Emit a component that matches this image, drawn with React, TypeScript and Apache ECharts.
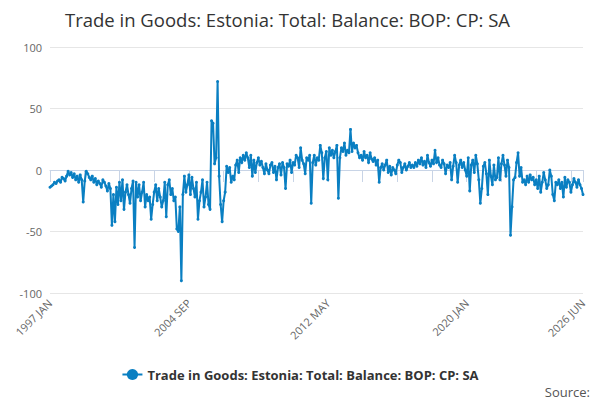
import { useEffect, useRef } from 'react';
import * as echarts from 'echarts';

const MONTHS = ['JAN', 'FEB', 'MAR', 'APR', 'MAY', 'JUN', 'JUL', 'AUG', 'SEP', 'OCT', 'NOV', 'DEC'];
const categories: string[] = [];
for (let y = 1997; y <= 2026; y++) {
  for (let m = 0; m < 12; m++) {
    if (y === 2026 && m > 5) break;
    categories.push(`${y} ${MONTHS[m]}`);
  }
}

const balance = [
  -14, -13, -12, -10, -11, -9, -8, -10, -6, -7, -9, -5,
  -1, -4, -2, -6, -3, -8, -5, -10, -4, -8, -26, -9,
  -1, -3, -6, -8, -5, -10, -7, -12, -9, -11, -14, -8,
  -10, -13, -17, -11, -15, -45, -20, -42, -14, -28, -10, -25,
  -8, -32, -18, -12, -20, -27, -15, -9, -63, -10, -22, -12,
  -25, -18, -10, -30, -20, -25, -22, -40, -28, -18, -12, -25,
  -15, -22, -30, -25, -10, -38, -12, -8, -20, -15, -25, -22,
  -48, -50, -30, -90, -20, -5, -18, -12, -4, -20, -6, -15,
  -22, -10, -40, -25, -18, -8, -30, -22, -10, -28, -32, 40,
  38, 5, 10, 72, -5, -28, -42, -25, -18, 3, -2, 2,
  -10, -5, -8, 4, 8, -2, 10, 6, 12, 8, 14, 10,
  2, 12, -5, 8, -2, 6, 10, 4, 7, 2, -3, 5,
  0, -3, 4, 6, -2, 3, -8, 2, 5, -4, 6, 2,
  -15, 5, 3, 8, -2, 6, 4, 12, 10, 2, 18, 8,
  5, -3, 10, 8, 12, -27, 6, 12, 4, 10, 8, 20,
  14, -7, 10, 15, -8, 18, 12, 16, 10, 15, 20, -23,
  10, 18, 15, 22, 12, 16, 14, 33, 15, 22, 18, 20,
  14, 10, 12, 8, 15, 10, 12, 6, 14, 9, 7, 10,
  4, 8, -10, 2, 5, 0, 4, 8, -2, 3, -4, 2,
  0, -3, 4, 8, 6, -2, 2, 5, 0, 3, 6, 2,
  4, 2, 6, 3, 8, 5, 10, 4, 7, 2, 12, 6,
  3, 8, 5, 16, 6, 10, 4, 2, 8, 5, -3, 4,
  2, 6, -8, 3, 12, 6, -10, 4, 8, 2, 6, 0,
  -5, 10, -17, 4, 8, -2, 12, 5, -8, -27, -15, 3,
  6, -3, -20, 8, -5, -12, 4, -8, -6, 10, -8, 5,
  12, 4, -5, 8, 2, -53, -30, -8, -6, 6, 14, -5,
  2, -10, -8, -12, -5, -10, -4, -8, -6, -12, -8, -15,
  -5, -18, -10, -2, -8, -15, -12, 0, -5, -20, -25, -10,
  -12, -8, -15, -10, -22, -6, -14, -8, -10, -18, -12, -7,
  -10, -14, -8, -12, -15, -20,
];

const SERIES_NAME = 'Trade in Goods: Estonia: Total: Balance: BOP: CP: SA';

export default function App() {
  const chartRef = useRef<HTMLDivElement>(null);

  useEffect(() => {
    if (!chartRef.current) return;
    document.body.style.margin = '0';
    const chart = echarts.init(chartRef.current, null, { renderer: 'svg' });
    const last = categories.length - 1;

    chart.setOption({
      animation: false,
      textStyle: { fontFamily: 'Open Sans' },
      title: {
        text: SERIES_NAME,
        left: 60,
        top: 5,
        textStyle: { fontSize: 18.5, fontWeight: 'normal', color: '#333' },
      },
      grid: { left: 50, right: 17, top: 47, bottom: 107 },
      xAxis: {
        type: 'category',
        data: categories,
        boundaryGap: false,
        axisLine: { lineStyle: { color: '#c8d4e6' } },
        axisTick: {
          lineStyle: { color: '#c8d4e6' },
          length: 12,
          interval: (i: number) => i % 23 === 0 || i === last,
        },
        axisLabel: {
          rotate: 45,
          color: '#666',
          fontSize: 11,
          interval: (i: number) => i % 92 === 0 || i === last,
        },
      },
      yAxis: {
        type: 'value',
        min: -100,
        max: 100,
        interval: 50,
        axisLabel: { color: '#666', fontSize: 11 },
        splitLine: { lineStyle: { color: '#e6e6e6' } },
      },
      legend: {
        bottom: 14,
        left: 'center',
        itemWidth: 20,
        textStyle: { fontWeight: 'bold', fontSize: 13, color: '#333' },
      },
      graphic: [
        {
          type: 'text',
          right: 10,
          bottom: 2,
          style: { text: 'Source:', fontSize: 13, fill: '#555', fontFamily: 'Open Sans' },
        },
      ],
      series: [
        {
          name: SERIES_NAME,
          type: 'line',
          data: balance,
          symbol: 'circle',
          symbolSize: 3,
          showAllSymbol: true,
          lineStyle: { width: 2, color: '#0a7fc2' },
          itemStyle: { color: '#0a7fc2' },
        },
      ],
    });

    return () => chart.dispose();
  }, []);

  return <div ref={chartRef} style={{ width: 600, height: 400 }} />;
}
